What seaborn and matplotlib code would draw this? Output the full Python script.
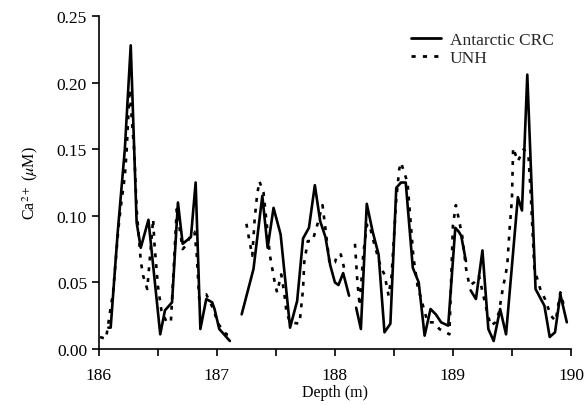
import matplotlib
matplotlib.use("Agg")
import matplotlib.pyplot as plt
import pandas as pd
import seaborn as sns
from matplotlib.ticker import MultipleLocator

# Antarctic CRC; each list is one unbroken run
crc_depth = [
    [186.08, 186.10, 186.16, 186.22, 186.27, 186.32, 186.355, 186.42, 186.52, 186.56,
     186.62, 186.67, 186.71, 186.78, 186.82, 186.86, 186.91, 186.96, 186.98, 187.02, 187.11],
    [187.21, 187.31, 187.385, 187.43, 187.48, 187.54, 187.62, 187.68, 187.73, 187.78,
     187.83, 187.875, 187.92, 187.96, 188.00, 188.03, 188.07, 188.12],
    [188.18, 188.22, 188.27, 188.32, 188.37, 188.42, 188.47, 188.52, 188.56, 188.60,
     188.66, 188.71, 188.76, 188.81, 188.855, 188.90, 188.96, 189.02, 189.05, 189.07, 189.11],
    [189.15, 189.195, 189.25, 189.30, 189.345, 189.40, 189.45, 189.55, 189.585, 189.63,
     189.70, 189.775, 189.82, 189.865, 189.91, 189.965],
]
crc_ca = [
    [0.016, 0.016, 0.088, 0.150, 0.228, 0.095, 0.076, 0.097, 0.011, 0.029,
     0.035, 0.110, 0.079, 0.084, 0.125, 0.015, 0.0375, 0.035, 0.030, 0.015, 0.006],
    [0.026, 0.060, 0.115, 0.076, 0.106, 0.086, 0.016, 0.036, 0.083, 0.091,
     0.123, 0.096, 0.084, 0.063, 0.050, 0.048, 0.057, 0.040],
    [0.031, 0.015, 0.109, 0.088, 0.071, 0.0125, 0.019, 0.121, 0.125, 0.125,
     0.061, 0.050, 0.010, 0.030, 0.026, 0.020, 0.0175, 0.091, 0.088, 0.085, 0.066],
    [0.044, 0.0375, 0.074, 0.015, 0.006, 0.030, 0.011, 0.114, 0.104, 0.206,
     0.045, 0.0325, 0.009, 0.0125, 0.041, 0.020],
]

# UNH
unh_depth = [
    [186.01, 186.06, 186.08, 186.10, 186.12, 186.165, 186.185, 186.22, 186.235, 186.26,
     186.30, 186.32, 186.355, 186.375, 186.41, 186.46, 186.47, 186.50, 186.53, 186.57,
     186.61, 186.66, 186.71, 186.74, 186.78, 186.81, 186.83, 186.85, 186.91, 186.97,
     187.01, 187.08, 187.12],
    [187.25, 187.27, 187.30, 187.32, 187.34, 187.36, 187.395, 187.45, 187.49, 187.51,
     187.545, 187.57, 187.59, 187.62, 187.70, 187.73, 187.74, 187.77, 187.81, 187.85,
     187.895, 187.92, 187.955, 188.00, 188.02, 188.05, 188.08],
    [188.17, 188.19, 188.21, 188.24, 188.27, 188.29, 188.33, 188.39, 188.42, 188.455,
     188.48, 188.52, 188.545, 188.56, 188.615, 188.665, 188.70, 188.785, 188.84, 188.885,
     188.97, 189.00, 189.025, 189.05, 189.08, 189.11, 189.14, 189.18, 189.22, 189.29,
     189.32, 189.36, 189.39, 189.42, 189.46, 189.48, 189.50, 189.51, 189.55, 189.60,
     189.64, 189.66, 189.69, 189.74, 189.78, 189.83, 189.87, 189.91, 189.94],
]
unh_ca = [
    [0.009, 0.0075, 0.019, 0.031, 0.042, 0.090, 0.106, 0.130, 0.148, 0.195,
     0.148, 0.105, 0.066, 0.055, 0.045, 0.0975, 0.080, 0.0475, 0.029, 0.021,
     0.020, 0.105, 0.075, 0.078, 0.086, 0.088, 0.070, 0.0375, 0.041, 0.030,
     0.019, 0.011, 0.0105],
    [0.094, 0.084, 0.070, 0.0975, 0.115, 0.126, 0.1175, 0.070, 0.050, 0.0425,
     0.056, 0.0425, 0.0275, 0.020, 0.019, 0.045, 0.065, 0.081, 0.081, 0.093,
     0.108, 0.090, 0.064, 0.065, 0.071, 0.071, 0.060],
    [0.079, 0.051, 0.0325, 0.071, 0.093, 0.094, 0.080, 0.061, 0.056, 0.040,
     0.055, 0.1125, 0.135, 0.140, 0.125, 0.069, 0.0475, 0.020, 0.020, 0.015,
     0.011, 0.093, 0.108, 0.0975, 0.084, 0.061, 0.0475, 0.050, 0.055, 0.0275,
     0.0175, 0.020, 0.0275, 0.044, 0.0625, 0.090, 0.1125, 0.151, 0.141, 0.150,
     0.145, 0.115, 0.060, 0.045, 0.0375, 0.025, 0.021, 0.0425, 0.0325],
]

rows = []
for name, depths, values in [("Antarctic CRC", crc_depth, crc_ca), ("UNH", unh_depth, unh_ca)]:
    for i, (d_run, v_run) in enumerate(zip(depths, values)):
        for d, v in zip(d_run, v_run):
            rows.append({"depth": d, "ca": v, "series": name, "seg": f"{name}-{i}"})
df = pd.DataFrame(rows)

sns.set_theme(style="ticks")
plt.rcParams["font.family"] = ["Liberation Serif", "DejaVu Serif"]
plt.rcParams["mathtext.fontset"] = "stix"

fig, ax = plt.subplots(figsize=(5.85, 4.06), dpi=100)
fig.subplots_adjust(left=0.169, right=0.976, bottom=0.138, top=0.958)

sns.lineplot(
    data=df, x="depth", y="ca", hue="series", style="series", units="seg",
    estimator=None, palette={"Antarctic CRC": "black", "UNH": "black"},
    dashes={"Antarctic CRC": "", "UNH": (1.5, 2.6)}, linewidth=1.9, ax=ax,
)

ax.set_xlim(186, 190)
ax.set_ylim(0, 0.25)
ax.xaxis.set_major_locator(MultipleLocator(1))
ax.xaxis.set_minor_locator(MultipleLocator(0.5))
ax.yaxis.set_major_locator(MultipleLocator(0.05))
ax.yaxis.set_major_formatter(matplotlib.ticker.FormatStrFormatter("%.2f"))
ax.tick_params(axis="both", which="both", direction="out", length=5, width=1.2,
               labelsize=12.5, color="black", labelcolor="black")
ax.tick_params(axis="x", pad=8)
for side in ["left", "bottom"]:
    ax.spines[side].set_linewidth(1.2)
    ax.spines[side].set_color("black")
sns.despine(ax=ax)

ax.set_xlabel("Depth (m)", fontsize=11.5, color="black", labelpad=1)
ax.set_ylabel(r"Ca$^{2+}$ ($\mu$M)", fontsize=11.5, color="black", labelpad=12)

leg = ax.legend(loc="upper right", bbox_to_anchor=(0.997, 1.0), frameon=False,
                fontsize=12.5, handlelength=1.75, handletextpad=0.5, labelspacing=0.1)
for line in leg.get_lines():
    line.set_linewidth(2)

fig.savefig("out.png", dpi=100)
